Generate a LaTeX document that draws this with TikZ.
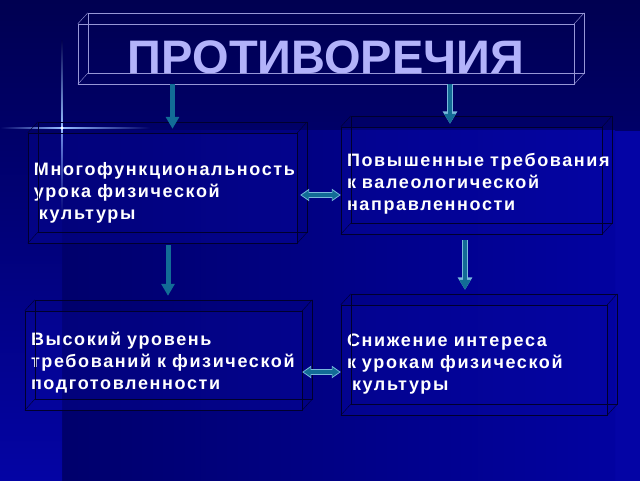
\documentclass[tikz,border=0pt]{standalone}
\usepackage{fontspec}
\setmainfont{Liberation Sans}
\newfontfamily\slabfont[LetterSpace=9]{Liberation Sans}
\usetikzlibrary{arrows.meta}
\definecolor{bgblue}{RGB}{4,4,165}
\definecolor{bgnight}{RGB}{0,0,80}
\definecolor{bgdusk}{RGB}{0,0,104}
\definecolor{bgdeep}{RGB}{0,0,108}
\definecolor{bgbright}{RGB}{2,2,160}
\definecolor{flare}{RGB}{150,190,255}
\definecolor{edgedark}{RGB}{0,0,45}
\definecolor{edgelight}{RGB}{150,150,215}
\definecolor{faceblue}{RGB}{10,10,170}
\definecolor{titlelav}{RGB}{178,178,250}
\definecolor{arrowteal}{RGB}{18,108,150}
\definecolor{arrowrim}{RGB}{120,185,220}
\tikzstyle{slab} = [rectangle, draw=edgedark, fill=faceblue, fill opacity=0.25, text opacity=1, text=white, inner xsep=6pt, align=left, font=\slabfont\bfseries\fontsize{18}{22}\selectfont]
\tikzstyle{headline} = [rectangle, draw=edgelight, text=titlelav, font=\bfseries\fontsize{47}{50}\selectfont]
\tikzstyle{fatarrow} = [draw=arrowteal, line width=5pt, -{Triangle[width=13pt,length=12pt]}]
\tikzstyle{hollowarrow} = [draw=arrowteal, line width=4pt, -{Triangle[width=11pt,length=10pt]}, preaction={draw=arrowrim, line width=6.5pt, shorten >=0pt, -{Triangle[width=14pt,length=12.5pt]}}]
\tikzstyle{twinarrow} = [draw=arrowteal, line width=3.5pt, {Triangle[width=9pt,length=7pt]}-{Triangle[width=9pt,length=7pt]}, shorten >=1.5pt, shorten <=1.5pt, preaction={draw=arrowrim, line width=6pt, shorten >=0pt, shorten <=0pt, {Triangle[width=12pt,length=9pt]}-{Triangle[width=12pt,length=9pt]}}]

\begin{document}
\begin{tikzpicture}[x=1pt, y=-1pt]
\useasboundingbox (0,0) rectangle (640,480);

% background
\fill[bgblue] (-5,-5) rectangle (645,485);
\shade[top color=bgnight, bottom color=bgdusk] (-5,-5) rectangle (645,130);
\shade[left color=bgdeep, right color=bgbright] (62,130) rectangle (615,485);
\shade[top color=bgdusk, bottom color=bgblue] (-5,130) rectangle (62,485);

% flare
\shade[top color=bgnight, bottom color=flare] (61.4,40) rectangle (62.6,128);
\shade[top color=flare, bottom color=bgdusk] (61.4,128) rectangle (62.6,215);
\shade[left color=bgdusk, right color=flare] (0,127.4) rectangle (62,128.6);
\shade[left color=flare, right color=bgdusk] (62,127.4) rectangle (150,128.6);
\fill[white] (62,128) circle (1.6);

\node (title) [headline, minimum width=496pt, minimum height=60pt] at (326,54) {\raisebox{-3pt}[\height][\depth]{ПРОТИВОРЕЧИЯ}};
\node (box1) [slab, minimum width=269pt, minimum height=110pt, text width=257pt] at (162.5,188) {\rule{0pt}{23pt}Многофункциональность\\урока физической\\\hspace{5pt}культуры};
\node (box2) [slab, minimum width=261pt, minimum height=107pt, text width=249pt] at (471.5,180.5) {\rule{0pt}{20pt}Повышенные~требования\\к валеологической\\направленности};
\node (box3) [slab, minimum width=277pt, minimum height=99pt, text width=265pt] at (163.5,360.5) {\rule{0pt}{17pt}Высокий уровень\\требований~к~физической\\подготовленности};
\node (box4) [slab, minimum width=266pt, minimum height=110pt, text width=254pt] at (474,360) {\rule{0pt}{20pt}Снижение интереса\\к урокам физической\\\hspace{5pt}культуры};

% back edges of the boxes
\draw[edgelight] ([shift={(10pt,11pt)}]title.north west) rectangle ([shift={(10pt,11pt)}]title.south east);
\foreach \c in {north west, north east, south west, south east}
  \draw[edgelight] (title.\c) -- ([shift={(10pt,11pt)}]title.\c);
\foreach \b in {box1, box2, box3, box4} {
  \draw[edgedark] ([shift={(10pt,11pt)}]\b.north west) rectangle ([shift={(10pt,11pt)}]\b.south east);
  \foreach \c in {north west, north east, south west, south east}
    \draw[edgedark] (\b.\c) -- ([shift={(10pt,11pt)}]\b.\c);
}

\draw [fatarrow] ([xshift=10pt]box1.north |- title.south) -- ([xshift=10pt,yshift=4pt]box1.north);
\draw [hollowarrow] ([xshift=-21.5pt]box2.north |- title.south) -- ([xshift=-21.5pt,yshift=3pt]box2.north);
\draw [fatarrow] ([xshift=4.5pt,yshift=-2pt]box1.south -| box3.north) -- ([xshift=4.5pt,yshift=15pt]box3.north);
\draw [hollowarrow] ([xshift=-9pt,yshift=-6pt]box2.south -| box4.north) -- ([xshift=-9pt,yshift=15pt]box4.north);
\draw [twinarrow] ([xshift=3pt,yshift=-7pt]box1.east) -- ([yshift=-7pt]box1.east -| box2.west);
\draw [twinarrow] ([yshift=-11.5pt]box3.east) -- ([yshift=-11.5pt]box3.east -| box4.west);

\end{tikzpicture}
\end{document}
